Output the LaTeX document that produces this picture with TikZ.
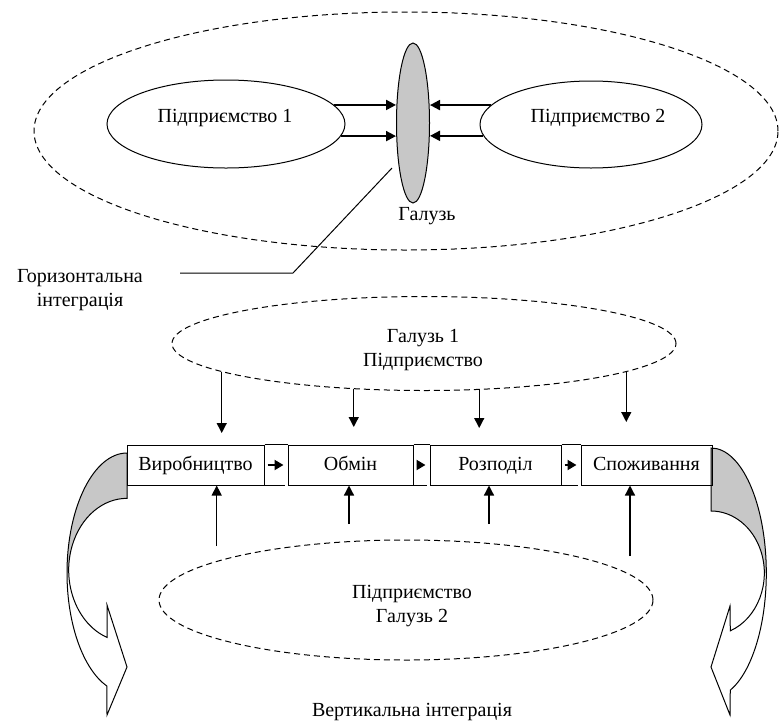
\documentclass[tikz,border=0pt]{standalone}
\usepackage{fontspec}
\setmainfont{Liberation Serif}
\usepackage{tikz}
\usetikzlibrary{shapes.geometric,arrows.meta}
\begin{document}
\begin{tikzpicture}[x=1pt,y=1pt,line width=1pt,
	font=\fontsize{20}{24}\selectfont,
	oval/.style={draw,ellipse},
	hatch/.style={dash pattern=on 6pt off 4pt},
	stage/.style={draw,rectangle,minimum height=40pt,text height=14pt,text depth=4pt},
	link/.style={-{Triangle[length=10pt,width=10pt]},line width=1.3pt}]
	\tikzstyle{every node}+=[inner sep=0pt]
	\useasboundingbox (0,0) rectangle (779,-721);
	\node[oval,hatch,minimum width=744pt,minimum height=238pt] (sector) at (406,-131) {};
	\node[oval,minimum width=238pt,minimum height=88pt] (firm1) at (226,-124) {};
	\node (firm1txt) at (225,-118) {Підприємство 1};
	\node[oval,minimum width=222pt,minimum height=87pt] (firm2) at (591,-124.5) {};
	\node (firm2txt) at (598,-118) {Підприємство 2};
	\node[oval,fill=black!22,minimum width=33pt,minimum height=160pt] (branch) at (413,-123) {};
	\node (branchtxt) at (427,-216) {Галузь};
	\draw[link,line width=2pt] (firm1.10) -- (firm1.10 -| branch.west);
	\draw[link,line width=2pt] (firm1.354) -- (firm1.354 -| branch.west);
	\draw[link,line width=2pt] (firm2.169) -- (firm2.169 -| branch.east);
	\draw[link,line width=2pt] (firm2.186) -- (firm2.186 -| branch.east);
	\node[align=center] (horiz) at (80,-290) {Горизонтальна\\інтеграція};
	\coordinate (tail) at (180,-273);
	\coordinate (knee) at (293,-273);
	\coordinate (hook) at (392,-168);
	\draw (tail) -- (knee) -- (hook);
	\node[oval,hatch,minimum width=504pt,minimum height=94pt] (sector1) at (424,-343.5) {};
	\node[align=center] (sector1txt) at (423,-350.5) {Галузь 1\\Підприємство};
	\fill[black!22] (127,-453) arc[start angle=90,end angle=180,x radius=60,y radius=120] -- (68.7,-570) arc[start angle=180,end angle=90,x radius=58.3,y radius=71.7] -- cycle;
	\draw (127,-453) arc[start angle=90,end angle=250.5,x radius=60,y radius=120] -- (107,-715) -- (127,-667) -- (107,-605) -- (107.06,-637.4) arc[start angle=250,end angle=90,x radius=58.3,y radius=71.7] -- cycle;
	\fill[black!22] (711,-448) arc[start angle=90,end angle=0,x radius=55.3,y radius=125] -- (764.3,-573) arc[start angle=0,end angle=90,x radius=53.3,y radius=62] -- cycle;
	\draw (711,-448) arc[start angle=90,end angle=-69.6,x radius=55.3,y radius=125] -- (730,-715) -- (711,-667) -- (730,-606) -- (730.3,-630.8) arc[start angle=-68.8,end angle=90,x radius=53.3,y radius=62] -- cycle;
	\node[stage,minimum width=137pt] (make) at (195.5,-465) {Виробництво};
	\node[stage,minimum width=125pt] (swap) at (350.5,-465) {Обмін};
	\node[stage,minimum width=131pt] (share) at (495.5,-465) {Розподіл};
	\node[stage,minimum width=131pt] (use) at (646.5,-465) {Споживання};
	\foreach \a/\b in {make/swap,swap/share,share/use} {
		\draw (\a.north east) -- (\b.north west);
		\draw (\a.south east) -- ([xshift=-3pt]\b.south west);
		\draw[-{Triangle[length=9pt,width=10pt]},line width=2pt] ([xshift=3pt]\a.east) -- ([xshift=-4pt]\b.west);
	}
	\foreach \ang/\tip [count=\i] in {188/433,213/427,320/428,352/422} {
		\coordinate (down\i) at (sector1.\ang |- 0,-\tip);
		\draw[link] (sector1.\ang) -- (down\i);
	}
	\node[oval,hatch,minimum width=494pt,minimum height=120pt] (sector2) at (406,-600) {};
	\node[align=center] (sector2txt) at (412,-606.5) {Підприємство\\Галузь 2};
	\foreach \x/\y/\b [count=\i] in {216.7/546/make,349/524/swap,489/524/share,630/556/use} {
		\coordinate (up\i) at (\x,-\y);
		\draw[link] (up\i) -- (up\i |- \b.south);
	}
	\node (vert) at (412,-712) {Вертикальна інтеграція};
\end{tikzpicture}
\end{document}
